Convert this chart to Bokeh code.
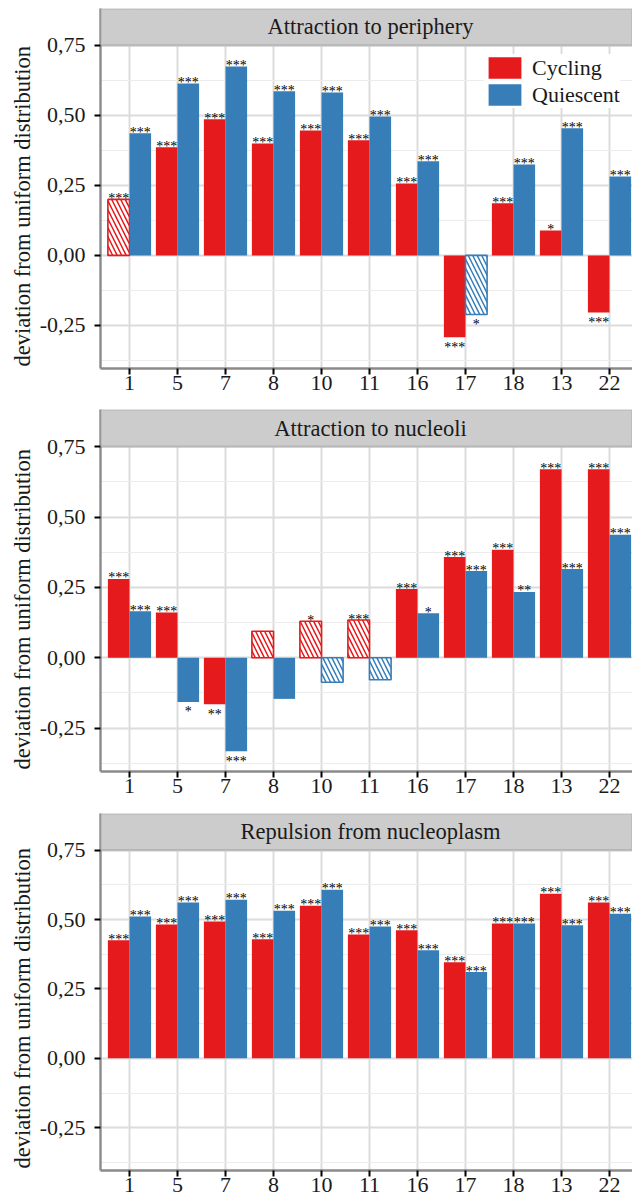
from bokeh.plotting import figure
from bokeh.models import (ColumnDataSource, Range1d, FixedTicker, CustomJSTickFormatter,
                          BoxAnnotation, Label, Legend, LegendItem, CDSView, BooleanFilter, Title)
from bokeh.transform import dodge
from bokeh.core.properties import value
from bokeh.layouts import column
from bokeh.embed import file_html
from bokeh.resources import INLINE

# ---------------- data ----------------
chromosomes = ["1", "5", "7", "8", "10", "11", "16", "17", "18", "13", "22"]
conditions = ["Cycling", "Quiescent"]

periphery_cycling = [0.200, 0.386, 0.486, 0.400, 0.446, 0.411, 0.257, -0.292, 0.186, 0.089, -0.204]
periphery_quiescent = [0.436, 0.614, 0.675, 0.586, 0.582, 0.496, 0.336, -0.211, 0.325, 0.454, 0.282]
periphery_cycling_sig = ["***", "***", "***", "***", "***", "***", "***", "***", "***", "*", "***"]
periphery_quiescent_sig = ["***", "***", "***", "***", "***", "***", "***", "*", "***", "***", "***"]
periphery_cycling_hatched = [True, False, False, False, False, False, False, False, False, False, False]
periphery_quiescent_hatched = [False, False, False, False, False, False, False, True, False, False, False]

nucleoli_cycling = [0.280, 0.161, -0.165, 0.094, 0.130, 0.134, 0.244, 0.358, 0.384, 0.670, 0.670]
nucleoli_quiescent = [0.165, -0.157, -0.332, -0.146, -0.087, -0.078, 0.158, 0.308, 0.234, 0.315, 0.437]
nucleoli_cycling_sig = ["***", "***", "**", "", "*", "***", "***", "***", "***", "***", "***"]
nucleoli_quiescent_sig = ["***", "*", "***", "", "", "", "*", "***", "**", "***", "***"]
nucleoli_cycling_hatched = [False, False, False, True, True, True, False, False, False, False, False]
nucleoli_quiescent_hatched = [False, False, False, False, True, True, False, False, False, False, False]

nucleoplasm_cycling = [0.425, 0.482, 0.493, 0.429, 0.550, 0.446, 0.461, 0.346, 0.486, 0.593, 0.561]
nucleoplasm_quiescent = [0.511, 0.561, 0.571, 0.532, 0.607, 0.475, 0.389, 0.311, 0.486, 0.479, 0.521]
nucleoplasm_cycling_sig = ["***"] * 11
nucleoplasm_quiescent_sig = ["***"] * 11
nucleoplasm_cycling_hatched = [False] * 11
nucleoplasm_quiescent_hatched = [False] * 11

panel_titles = ["Attraction to periphery", "Attraction to nucleoli", "Repulsion from nucleoplasm"]

y_ticks = [-0.25, 0.0, 0.25, 0.50, 0.75]
y_minor = [-0.375, -0.125, 0.125, 0.375, 0.625]
Y_LABEL = "deviation from uniform distribution"

# ---------------- style ----------------
RED = "#E41A1C"
BLUE = "#377EB8"
FONT = "Liberation Serif"
W = 632
LEFT = 100
Y_LO, PANEL_TOP, Y_HI = -0.404, 0.75, 0.882


def make_panel(title, cyc, qui, cyc_sig, qui_sig, cyc_h, qui_h, height, bt, bb, legend=False):
    p = figure(width=W, height=height, output_backend="svg", toolbar_location=None,
               x_range=Range1d(-0.604, 10.479), y_range=Range1d(Y_LO, Y_HI),
               min_border_left=LEFT, min_border_right=0, min_border_top=bt, min_border_bottom=bb)
    p.outline_line_color = None
    p.background_fill_color = "white"

    solid = {}
    for name, vals, sig, hat, off, col in [
        ("Cycling", cyc, cyc_sig, cyc_h, -0.225, RED),
        ("Quiescent", qui, qui_sig, qui_h, 0.225, BLUE),
    ]:
        src = ColumnDataSource(dict(idx=list(range(len(chromosomes))), val=vals, sig=sig))
        v_solid = CDSView(filter=BooleanFilter([not h for h in hat]))
        v_hatch = CDSView(filter=BooleanFilter(list(hat)))
        solid[name] = p.vbar(x=dodge("idx", off), top="val", bottom=0, width=0.45,
                             source=src, view=v_solid, fill_color=col, line_color=None)
        p.vbar(x=dodge("idx", off), top="val", bottom=0, width=0.45, source=src, view=v_hatch,
               fill_color="white", line_color=col, line_width=1.6,
               hatch_pattern="\\", hatch_color=col, hatch_weight=1.5, hatch_scale=9)
        v_pos = CDSView(filter=BooleanFilter([x >= 0 for x in vals]))
        v_neg = CDSView(filter=BooleanFilter([x < 0 for x in vals]))
        p.text(x=dodge("idx", off), y="val", text="sig", source=src, view=v_pos,
               text_align="center", text_baseline="alphabetic", y_offset=-1,
               text_font=value(FONT), text_font_size="14px", text_color="black")
        p.text(x=dodge("idx", off), y="val", text="sig", source=src, view=v_neg,
               text_align="center", text_baseline="alphabetic", y_offset=10,
               text_font=value(FONT), text_font_size="14px", text_color="black")

    # facet strip (top part of the frame)
    p.add_layout(BoxAnnotation(bottom=PANEL_TOP, fill_color="#cccccc", fill_alpha=1,
                               line_color="#7f7f7f", line_width=2.2))
    p.add_layout(Label(x=270, x_units="screen", y=(PANEL_TOP + Y_HI) / 2, text=title,
                       text_align="center", text_baseline="middle", text_font=FONT,
                       text_font_size="22.5px", text_color="#1a1a1a"))
    # y-axis title, running up from the bottom of the panel area below the strip
    p.add_layout(Title(text=Y_LABEL, align="left", offset=2, standoff=4,
                       text_font=FONT, text_font_size="22.5px", text_font_style="normal",
                       text_color="#1a1a1a"), "left")

    # axes
    p.xaxis.ticker = FixedTicker(ticks=list(range(len(chromosomes))))
    p.xaxis.major_label_overrides = {i: c for i, c in enumerate(chromosomes)}
    p.yaxis.ticker = FixedTicker(ticks=y_ticks, minor_ticks=y_minor)
    p.yaxis.formatter = CustomJSTickFormatter(code="return tick.toFixed(2).replace('.', ',');")
    for ax in (p.xaxis[0], p.yaxis[0]):
        ax.axis_line_color = "#8a8a8a"
        ax.axis_line_width = 2.4
        ax.major_tick_line_color = "black"
        ax.major_tick_line_width = 2
        ax.major_tick_out = 6
        ax.major_tick_in = 0
        ax.minor_tick_out = 0
        ax.minor_tick_in = 0
        ax.major_label_text_font = FONT
        ax.major_label_text_font_size = "22px"
        ax.major_label_text_color = "#1a1a1a"
    p.xaxis.major_label_standoff = 1
    p.yaxis.major_label_standoff = 9

    p.xgrid.grid_line_color = "#dcdcdc"
    p.xgrid.grid_line_width = 2
    p.ygrid.grid_line_color = "#dcdcdc"
    p.ygrid.grid_line_width = 2
    p.ygrid.minor_grid_line_color = "#ececec"
    p.ygrid.minor_grid_line_width = 1.2

    if legend:
        lg = Legend(items=[LegendItem(label=conditions[0], renderers=[solid["Cycling"]]),
                           LegendItem(label=conditions[1], renderers=[solid["Quiescent"]])],
                    location=(384, 260), glyph_width=41, glyph_height=27, label_height=27,
                    spacing=0, padding=0, margin=0, label_standoff=7,
                    label_text_font=FONT, label_text_font_size="22px", label_text_color="#1a1a1a",
                    label_text_baseline="middle",
                    border_line_color=None, background_fill_color="white", background_fill_alpha=1)
        p.add_layout(lg)
    return p


p1 = make_panel(panel_titles[0], periphery_cycling, periphery_quiescent,
                periphery_cycling_sig, periphery_quiescent_sig,
                periphery_cycling_hatched, periphery_quiescent_hatched, 405, 8, 37, legend=True)
p2 = make_panel(panel_titles[1], nucleoli_cycling, nucleoli_quiescent,
                nucleoli_cycling_sig, nucleoli_quiescent_sig,
                nucleoli_cycling_hatched, nucleoli_quiescent_hatched, 404, 4, 38)
p3 = make_panel(panel_titles[2], nucleoplasm_cycling, nucleoplasm_quiescent,
                nucleoplasm_cycling_sig, nucleoplasm_quiescent_sig,
                nucleoplasm_cycling_hatched, nucleoplasm_quiescent_hatched, 391, 4, 30)

layout = column(p1, p2, p3, spacing=0)
open("out.html", "w").write(file_html(layout, INLINE))
